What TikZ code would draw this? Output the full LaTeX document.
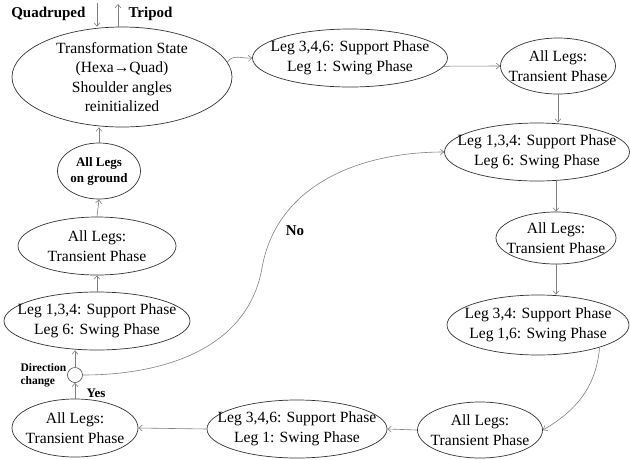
\documentclass[tikz,border=0pt]{standalone}
\usepackage{fontspec}
\setmainfont{Liberation Serif}
\usetikzlibrary{calc,shapes,arrows.meta}

\tikzset{
  st/.style={ellipse,draw=black!80,line width=0.7pt,inner sep=0pt},
  tx/.style={align=center,font=\fontsize{15.6}{19.5}\selectfont},
  bt/.style={font=\bfseries\fontsize{15}{17}\selectfont},
  ln/.style={-{Straight Barb[length=3.5pt,width=6pt]},draw=black!50,line width=0.6pt},
}

\begin{document}
\begin{tikzpicture}[x=1pt,y=-1pt]
\useasboundingbox (0,0) rectangle (630,459);

\def\phases{T/122/77/220/100/{Transformation State\\(Hexa→Quad)\\Shoulder angles\\reinitialized},
  L1/350/58/195/58/{Leg 3,4,6: Support Phase\\Leg 1: Swing Phase},
  R0/558/66/115/56/{All Legs:\\Transient Phase},
  R1/537/152/185/58/{Leg 1,3,4: Support Phase\\Leg 6: Swing Phase},
  R2/556/238/120/52/{All Legs:\\Transient Phase},
  R3/538/325/182/60/{Leg 3,4: Support Phase\\Leg 1,6: Swing Phase},
  B3/480/430/125/56/{All Legs:\\Transient Phase},
  B2/297/429/180/58/{Leg 3,4,6: Support Phase\\Leg 1: Swing Phase},
  BL/75/428/126/58/{All Legs:\\Transient Phase},
  S1/97/321/186/58/{Leg 1,3,4: Support Phase\\Leg 6: Swing Phase},
  TR1/97/246/158/58/{All Legs:\\Transient Phase}}
\foreach \n/\x/\y/\w/\h/\t in \phases {
  \node [st,minimum width=\w pt,minimum height=\h pt] (\n) at (\x,\y) {};
  \node [tx] at (\n) {\t};
}

\node [st,minimum width=83pt,minimum height=56pt] (AG) at (99,171) {};
\node [align=center,font=\bfseries\fontsize{13}{16}\selectfont] at (AG) {All Legs\\on ground};
\node [circle,draw=black!70,line width=0.6pt,minimum size=15pt,inner sep=0pt] (dc) at (75,375) {};

\node [bt,anchor=east] (qd) at (89,14) {Quadruped};
\node [bt,anchor=west] (tp) at (125,14) {Tripod};
\node [anchor=west,align=left,font=\bfseries\fontsize{11.5}{13}\selectfont] (dcl) at (17,375) {Direction\\change};
\node [font=\bfseries\fontsize{13}{15}\selectfont] (yes) at (96,393) {Yes};
\node [font=\bfseries\fontsize{15}{17}\selectfont] (no) at (295,231) {No};

\coordinate (qa) at (97,3);
\coordinate (ta) at (118,4);
\draw [ln] (qa) -- (qa |- T.north);
\draw [ln] (ta |- T.north) -- (ta);

\draw [ln] (T.8) to[out=60,in=185] (L1.west);
\draw [ln] (L1.-5) -- (R0.west);
\draw [ln] (R0.south) -- (R0.south |- R1.north);
\draw [ln] (R2.north |- R1.south) -- (R2.north);
\draw [ln] (R2.south) -- (R2.south |- R3.north);
\draw [ln] (R3.-20) to[out=-95,in=30] (B3.east);
\draw [ln] (B3.west) -- (B2.east);
\draw [ln] (B2.west) -- (BL.east);
\draw [ln] (BL.north) -- (dc.south);
\draw [ln] (dc.north) -- (dc.north |- S1.south);
\draw [ln] (S1.north) -- (TR1.south);
\draw [ln] (TR1.north) -- (AG.south);
\draw [ln] (AG.north) -- (AG.north |- T.south);
\draw [ln] (dc.east) to[out=0,in=-100] (262,268) to[out=80,in=180] (R1.west);

\end{tikzpicture}
\end{document}
